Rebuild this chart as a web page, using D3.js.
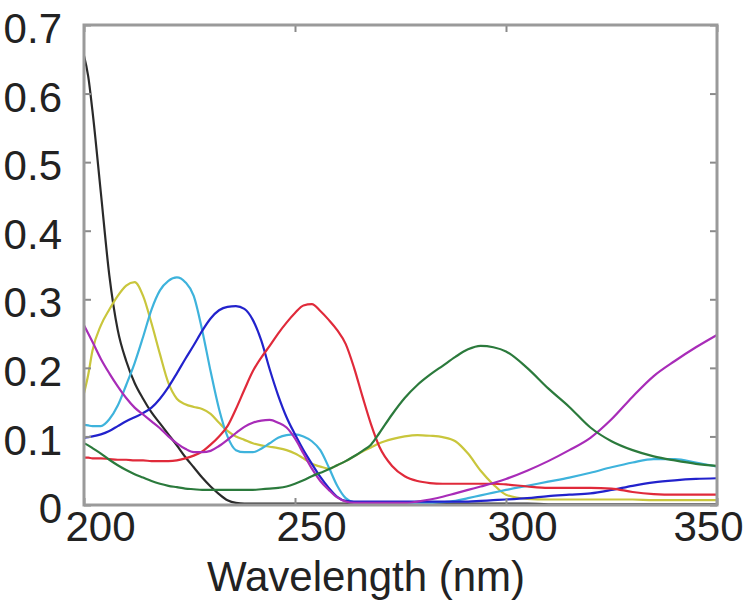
<!DOCTYPE html>
<html>
<head>
<meta charset="utf-8">
<script src="https://cdn.jsdelivr.net/npm/d3@7"></script>
<style>
  body { margin: 0; background: #fff; }
  svg text { font-family: "Liberation Sans", Arial, sans-serif; fill: #222; }
</style>
</head>
<body>
<svg id="chart" width="751" height="605"></svg>
<script>
// wavelengths (nm) shared by all spectra
var wl = [200,201,202,204,206,208,210,212,214,216,218,220,222,224,226,228,230,232,234,236,238,240,
  242,244,246,248,250,252,254,256,258,260,262,264,266,268,270,273,276,279,282,285,288,291,294,297,300,
  305,310,315,320,325,330,335,340,345,350];

var kVals = [0.655,0.625,0.575,0.455,0.335,0.255,0.21,0.178,0.155,0.135,0.119,0.103,0.087,0.07,0.055,0.04,0.027,0.016,0.007,0.003,0.002,0.002,
  0.002,0.002,0.002,0.002,0.002,0.002,0.002,0.002,0.002,0.002,0.002,0.002,0.002,0.002,0.002,0.002,0.002,0.002,0.002,0.002,0.002,0.002,0.002,0.002,0.002,
  0.002,0.001,0.001,0.001,0.001,0.001,0.001,0.001,0.001,0.001];
var yVals = [0.163,0.19,0.225,0.262,0.285,0.305,0.32,0.325,0.305,0.265,0.22,0.178,0.155,0.147,0.143,0.14,0.133,0.12,0.108,0.1,0.095,0.09,
  0.087,0.085,0.083,0.08,0.075,0.068,0.06,0.056,0.053,0.058,0.064,0.071,0.078,0.084,0.09,0.096,0.1,0.102,0.101,0.099,0.093,0.075,0.05,0.03,0.015,
  0.009,0.008,0.008,0.008,0.008,0.008,0.007,0.007,0.007,0.007];
var cVals = [0.117,0.116,0.115,0.115,0.125,0.145,0.175,0.207,0.245,0.285,0.313,0.327,0.332,0.325,0.305,0.255,0.195,0.14,0.1,0.08,0.077,0.077,
  0.082,0.09,0.098,0.102,0.103,0.1,0.093,0.08,0.055,0.028,0.01,0.004,0.003,0.003,0.003,0.003,0.003,0.003,0.003,0.004,0.006,0.01,0.014,0.018,0.022,
  0.028,0.034,0.04,0.047,0.055,0.062,0.067,0.067,0.062,0.056];
var bVals = [0.098,0.099,0.1,0.103,0.108,0.115,0.122,0.128,0.134,0.142,0.155,0.172,0.192,0.213,0.233,0.254,0.272,0.284,0.289,0.29,0.286,0.27,
  0.24,0.198,0.16,0.128,0.103,0.08,0.06,0.041,0.025,0.012,0.006,0.005,0.005,0.005,0.005,0.005,0.005,0.005,0.005,0.005,0.005,0.005,0.006,0.007,0.008,
  0.01,0.013,0.015,0.017,0.022,0.028,0.033,0.036,0.038,0.039];
var rVals = [0.069,0.069,0.068,0.068,0.067,0.066,0.066,0.065,0.065,0.064,0.064,0.064,0.065,0.068,0.072,0.078,0.088,0.1,0.115,0.14,0.168,0.195,
  0.215,0.232,0.25,0.266,0.28,0.291,0.293,0.283,0.27,0.255,0.235,0.2,0.158,0.118,0.085,0.057,0.042,0.035,0.032,0.031,0.031,0.031,0.031,0.031,0.03,
  0.027,0.025,0.025,0.025,0.024,0.019,0.016,0.015,0.015,0.015];
var mVals = [0.262,0.25,0.238,0.213,0.192,0.173,0.156,0.142,0.132,0.122,0.112,0.1,0.09,0.082,0.077,0.077,0.079,0.086,0.095,0.105,0.114,0.12,
  0.123,0.124,0.12,0.113,0.097,0.075,0.053,0.035,0.022,0.011,0.005,0.003,0.003,0.003,0.003,0.003,0.003,0.005,0.008,0.012,0.017,0.022,0.027,0.032,0.038,
  0.05,0.064,0.08,0.098,0.125,0.158,0.188,0.21,0.23,0.248];
var gVals = [0.09,0.087,0.083,0.075,0.066,0.058,0.051,0.045,0.04,0.035,0.031,0.028,0.026,0.024,0.023,0.022,0.022,0.022,0.022,0.022,0.022,0.022,
  0.023,0.024,0.025,0.027,0.031,0.036,0.042,0.047,0.052,0.058,0.064,0.071,0.079,0.088,0.105,0.132,0.156,0.175,0.19,0.203,0.216,0.227,0.232,0.23,0.224,
  0.2,0.17,0.143,0.113,0.093,0.08,0.071,0.065,0.06,0.057];

var seriesVals = [kVals, yVals, cVals, bVals, rVals, mVals, gVals];
var seriesColors = ["#2a2a2a", "#c9c63c", "#3eb3dc", "#2222cc", "#e02a3a", "#a82cb8", "#2b7a3c"];

var xTicks = [200, 250, 300, 350];
var yTicks = [0, 0.1, 0.2, 0.3, 0.4, 0.5, 0.6, 0.7];

var svg = d3.select("#chart");

var plotL = 84, plotR = 717, plotT = 25, plotB = 505;

var x = d3.scaleLinear().domain([200, 350]).range([plotL, plotR]);
var y = d3.scaleLinear().domain([0, 0.7]).range([plotB, plotT]);

// spectra
var line = d3.line()
  .x(function(d) { return x(d[0]); })
  .y(function(d) { return y(d[1]); })
  .curve(d3.curveMonotoneX);

seriesVals.forEach(function(vals, i) {
  svg.append("path")
    .attr("d", line(wl.map(function(w, j) { return [w, vals[j]]; })))
    .attr("fill", "none")
    .attr("stroke", seriesColors[i])
    .attr("stroke-width", 2.2)
    .attr("stroke-linejoin", "round");
});

// axes (ticks pointing inwards)
var yAxis = svg.append("g")
  .attr("transform", "translate(" + plotL + ",0)")
  .call(d3.axisLeft(y).tickValues(yTicks).tickSizeInner(-7).tickSizeOuter(0).tickPadding(29)
    .tickFormat(function(d) { return d === 0 ? "0" : d3.format(".1f")(d); }));

svg.append("g")
  .attr("transform", "translate(" + plotR + ",0)")
  .call(d3.axisRight(y).tickValues(yTicks).tickSizeInner(-7).tickSizeOuter(0).tickFormat(""));

var xAxis = svg.append("g")
  .attr("transform", "translate(0," + plotB + ")")
  .call(d3.axisBottom(x).tickValues(xTicks).tickSizeInner(-7).tickSizeOuter(0).tickPadding(6));

svg.append("g")
  .attr("transform", "translate(0," + plotT + ")")
  .call(d3.axisTop(x).tickValues(xTicks).tickSizeInner(-7).tickSizeOuter(0).tickFormat(""));

svg.selectAll(".domain").remove();
svg.selectAll(".tick line").attr("stroke", "#8a8a8a").attr("stroke-width", 2);

yAxis.selectAll("text")
  .attr("font-size", 42)
  .attr("font-family", "Liberation Sans, Arial, sans-serif")
  .attr("dy", "0.42em")
  .attr("x", -22)
  .attr("fill", "#222");

xAxis.selectAll("text")
  .attr("font-size", 42)
  .attr("font-family", "Liberation Sans, Arial, sans-serif")
  .attr("fill", "#222")
  .attr("x", function(d) { return Math.min(x(d) + 16, 708) - x(d); });

// frame
svg.append("rect")
  .attr("x", plotL)
  .attr("y", plotT)
  .attr("width", plotR - plotL)
  .attr("height", plotB - plotT)
  .attr("fill", "none")
  .attr("stroke", "#9a9a9a")
  .attr("stroke-width", 3);

// axis title
svg.append("text")
  .attr("x", 366)
  .attr("y", 591)
  .attr("text-anchor", "middle")
  .attr("font-size", 42)
  .text("Wavelength (nm)");
</script>
</body>
</html>
